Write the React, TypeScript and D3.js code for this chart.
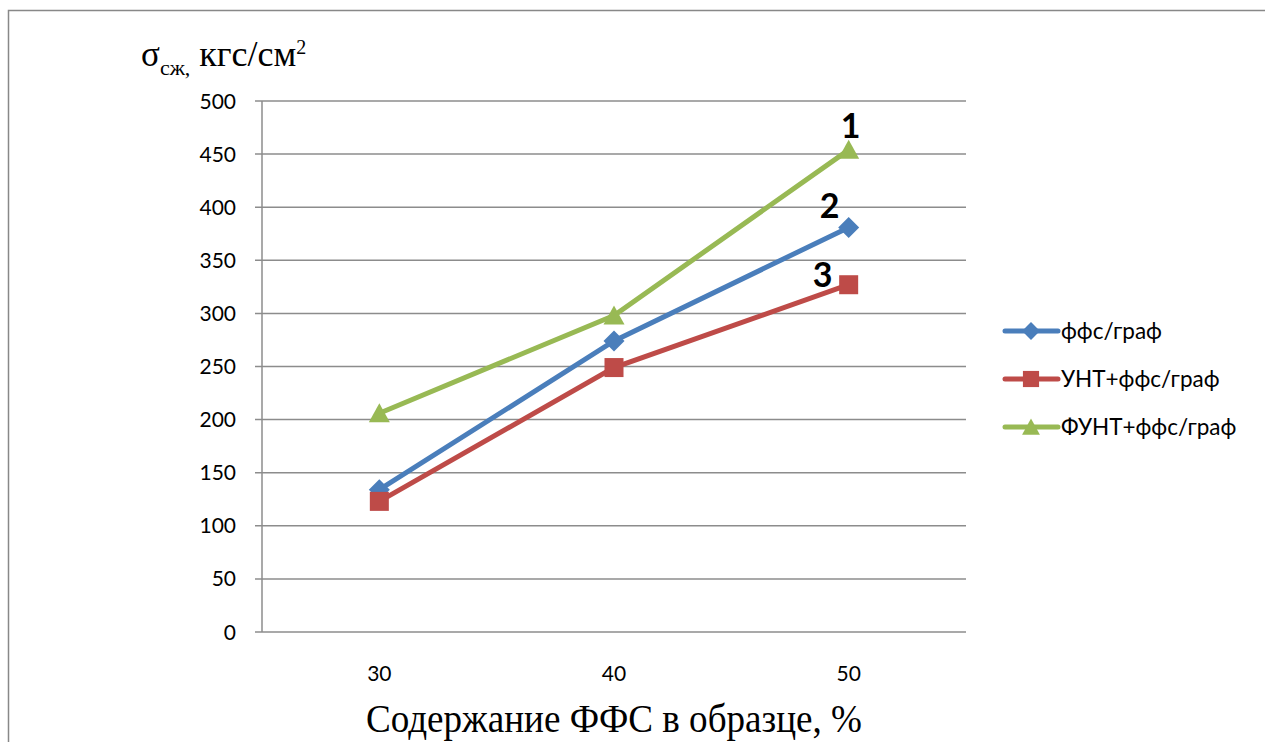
import React from "react";
import * as d3 from "d3";

const categories = ["30", "40", "50"];
const seriesNames = ["ффс/граф", "УНТ+ффс/граф", "ФУНТ+ффс/граф"];
const seriesFFS = [134, 274, 381];
const seriesUNT = [123, 249, 327];
const seriesFUNT = [206, 298, 454];
const yTicks = [0, 50, 100, 150, 200, 250, 300, 350, 400, 450, 500];
const curveLabels = ["1", "2", "3"];

const W = 1265, H = 742;
const plot = { left: 262, right: 966, top: 101, bottom: 632 };

export default function App() {
  const x = d3.scaleBand().domain(categories).range([plot.left, plot.right]);
  const y = d3.scaleLinear().domain([0, 500]).range([plot.bottom, plot.top]);
  const cx = (c: string) => (x(c) as number) + x.bandwidth() / 2;

  const series = [
    { name: seriesNames[0], values: seriesFFS, color: "#4A7EBB", marker: "diamond" },
    { name: seriesNames[1], values: seriesUNT, color: "#BE4B48", marker: "square" },
    { name: seriesNames[2], values: seriesFUNT, color: "#98B954", marker: "triangle" },
  ];

  const line = d3.line<[number, number]>().x(d => d[0]).y(d => d[1]);

  const marker = (type: string, px: number, py: number, color: string, key: string, k = 1) => {
    if (type === "diamond") {
      const s = 10.5 * k;
      return <path key={key} d={`M${px},${py - s}L${px + s},${py}L${px},${py + s}L${px - s},${py}Z`} fill={color} />;
    }
    if (type === "square") {
      const s = 9.5 * k;
      return <rect key={key} x={px - s} y={py - s} width={2 * s} height={2 * s} fill={color} />;
    }
    const s = 10.5 * k;
    return <path key={key} d={`M${px},${py - 10 * k}L${px + s},${py + 9 * k}L${px - s},${py + 9 * k}Z`} fill={color} />;
  };

  const labelFont = "Lato, 'Open Sans', 'DejaVu Sans', sans-serif";
  const serif = "'Liberation Serif', 'DejaVu Serif', serif";
  const lastIdx = categories.length - 1;
  const labelPos = [
    { s: 2, dx: 2, dy: -12 },
    { s: 0, dx: -19, dy: -9 },
    { s: 1, dx: -26, dy: 2 },
  ];

  return (
    <svg width={W} height={H} style={{ position: "absolute", left: 0, top: 0, background: "#fff" }}>
      <rect x={8.5} y={10.5} width={W + 10} height={H + 10} fill="none" stroke="#888" strokeWidth={1.5} />
      {yTicks.map(t => (
        <g key={t}>
          <line x1={plot.left - 7} x2={plot.right} y1={y(t)} y2={y(t)} stroke="#8C8C8C" strokeWidth={1.5} />
          <text x={236} y={y(t)} dy="0.36em" textAnchor="end" fontFamily={labelFont} fontSize={21} fill="#000">{t}</text>
        </g>
      ))}
      <line x1={plot.left} x2={plot.left} y1={plot.top} y2={plot.bottom} stroke="#8C8C8C" strokeWidth={1.5} />
      {categories.map(c => (
        <text key={c} x={cx(c)} y={681} textAnchor="middle" fontFamily={labelFont} fontSize={21} fill="#000">{c}</text>
      ))}
      {series.map(s => (
        <g key={s.name}>
          <path d={line(s.values.map((v, i) => [cx(categories[i]), y(v)] as [number, number])) || ""} fill="none" stroke={s.color} strokeWidth={5} />
          {s.values.map((v, i) => marker(s.marker, cx(categories[i]), y(v), s.color, s.name + i))}
        </g>
      ))}
      {labelPos.map((lp, i) => (
        <text key={i} x={cx(categories[lastIdx]) + lp.dx} y={y(series[lp.s].values[lastIdx]) + lp.dy} textAnchor="middle"
          fontFamily={labelFont} fontWeight="bold" fontSize={34} fill="#000">{curveLabels[i]}</text>
      ))}
      {series.map((s, i) => {
        const ly = 331 + i * 48;
        return (
          <g key={"lg" + i}>
            <line x1={1005} x2={1058} y1={ly} y2={ly} stroke={s.color} strokeWidth={5} strokeLinecap="round" />
            {marker(s.marker, 1031, ly, s.color, "lm" + i, 0.85)}
            <text x={1061} y={ly} dy="0.36em" fontFamily={labelFont} fontSize={22.5} fill="#000">{s.name}</text>
          </g>
        );
      })}
      <text x={141} y={66} fontFamily={serif} fill="#000">
        <tspan fontSize={35}>σ</tspan>
        <tspan fontSize={22} dy={9}>сж,</tspan>
        <tspan fontSize={36} dy={-9}> кгс/см</tspan>
        <tspan fontSize={20} dy={-12}>2</tspan>
      </text>
      <g transform="translate(614,732) scale(1,1.08)">
        <text x={0} y={0} textAnchor="middle" fontFamily={serif} fontSize={37} textLength={496} lengthAdjust="spacingAndGlyphs" fill="#000">Содержание ФФС в образце, %</text>
      </g>
    </svg>
  );
}
